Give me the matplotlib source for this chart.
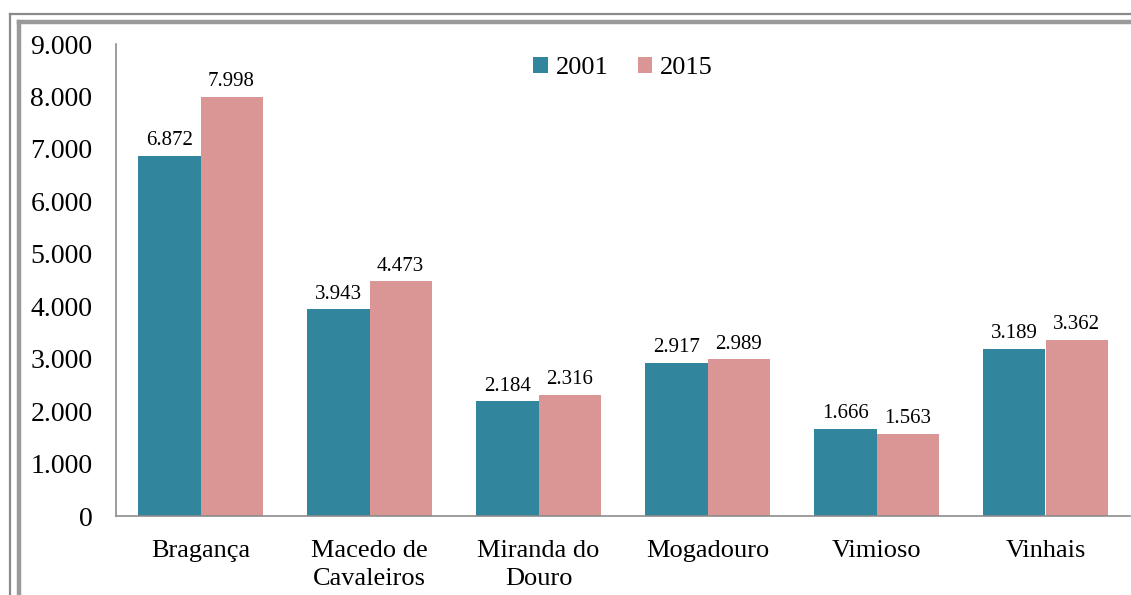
import numpy as np
import matplotlib.pyplot as plt
from matplotlib.lines import Line2D

concelhos = ["Bragança", "Macedo de\nCavaleiros", "Miranda do\nDouro",
             "Mogadouro", "Vimioso", "Vinhais"]
v2001 = [6872, 3943, 2184, 2917, 1666, 3189]
v2015 = [7998, 4473, 2316, 2989, 1563, 3362]
yticks = [0, 1000, 2000, 3000, 4000, 5000, 6000, 7000, 8000, 9000]


def fmt_pt(v):
    # separador de milhares com ponto
    return f"{v:,}".replace(",", ".")


plt.rcParams["font.family"] = ["Liberation Serif", "DejaVu Serif"]

fig = plt.figure(figsize=(11.31, 5.95), dpi=100)
ax = fig.add_axes([116 / 1131, 79 / 595, 1014 / 1131, 472 / 595])

x = np.arange(len(concelhos))
w = 0.367
b1 = ax.bar(x - w / 2, v2001, w, color="#31859C", label="2001")
b2 = ax.bar(x + w / 2, v2015, w, color="#D99694", label="2015")

for bars, vals in ((b1, v2001), (b2, v2015)):
    for r, v in zip(bars, vals):
        ax.annotate(fmt_pt(v), (r.get_x() + r.get_width() / 2, v),
                    xytext=(0, 4), textcoords="offset points",
                    ha="center", va="bottom", fontsize=15)

ax.set_xlim(-0.5, len(concelhos) - 0.5)
ax.set_ylim(0, 9000)
ax.set_yticks(yticks)
ax.set_yticklabels([fmt_pt(t) for t in yticks], fontsize=20)
ax.set_xticks(x)
ax.set_xticklabels(concelhos, fontsize=19, linespacing=1.4)
ax.tick_params(axis="both", length=0)
ax.tick_params(axis="x", pad=17)
ax.tick_params(axis="y", pad=17)

for s in ("top", "right"):
    ax.spines[s].set_visible(False)
for s in ("left", "bottom"):
    ax.spines[s].set_color("#8c8c8c")
    ax.spines[s].set_linewidth(1.2)

ax.legend(loc="upper center", bbox_to_anchor=(0.5, 1.0), ncol=2, frameon=False,
          fontsize=19, handlelength=0.55, handleheight=0.55, handletextpad=0.3,
          columnspacing=1.1, borderaxespad=0.1)

# moldura dupla (parte superior e esquerda)
H = 595
W = 1131
def fig_line(xs, ys, lw, c):
    fig.add_artist(Line2D([v / W for v in xs], [1 - v / H for v in ys],
                          lw=lw, color=c, transform=fig.transFigure))

fig_line([10, W], [13.5, 13.5], 1.6, "#8a8a8a")
fig_line([10, 10], [13.5, H], 1.6, "#8a8a8a")
fig_line([19, W], [22, 22], 3.2, "#9a9a9a")
fig_line([19, 19], [22, H], 3.2, "#9a9a9a")

fig.savefig("out.png", dpi=100)
